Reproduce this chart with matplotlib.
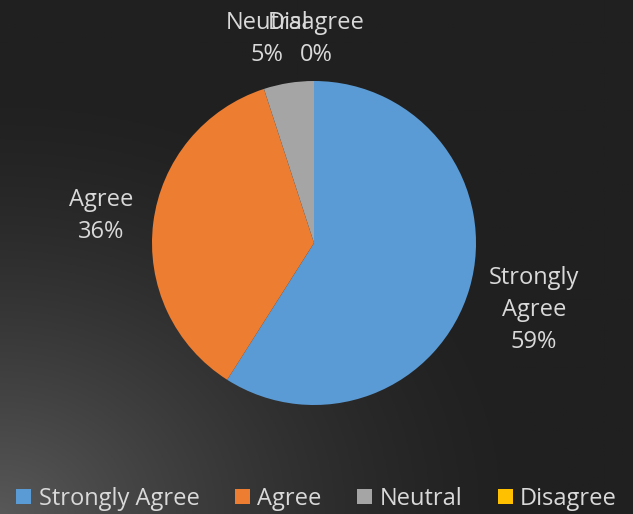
import numpy as np
import matplotlib
matplotlib.use("Agg")
import matplotlib.pyplot as plt
from matplotlib.patches import Patch

# survey answers
categories = ["Strongly Agree", "Agree", "Neutral", "Disagree"]
values = [59, 36, 5, 0]
colors = ["#5B9BD5", "#ED7D31", "#A5A5A5", "#FFC000"]

plt.rcParams["font.family"] = ["Open Sans", "DejaVu Sans"]
txt_color = "#d9d9d9"

fig = plt.figure(figsize=(6.33, 5.14), dpi=100)

# dark background, a bit lighter towards the lower left corner
bg = fig.add_axes([0, 0, 1, 1])
yy, xx = np.mgrid[0:1:200j, 0:1:200j]
t = np.clip(1.0 - np.hypot(xx, 1 - yy) / 0.85, 0, 1) ** 1.5
dark, light = 0x20 / 255, 0x58 / 255
img = dark + (light - dark) * t
bg.imshow(np.dstack([img, img, img]), extent=[0, 1, 0, 1], aspect="auto", origin="upper")
bg.axis("off")

# pie axes
W, H = 633, 514
cx, cy, r = 314, 243, 162
ax = fig.add_axes([(cx - r) / W, 1 - (cy + r) / H, 2 * r / W, 2 * r / H])
wedges, _ = ax.pie(values, colors=colors, startangle=90, counterclock=False,
                   radius=1, wedgeprops=dict(linewidth=0))
ax.set_xlim(-1, 1)
ax.set_ylim(-1, 1)
ax.set_aspect("auto")
ax.axis("off")

# data labels (pixel positions of the label centres)
label_pos = {
    "Strongly Agree": (534, 310),
    "Agree": (101, 216),
    "Neutral": (267, 39),
    "Disagree": (316, 39),
}
label_text = {
    "Strongly Agree": "Strongly\nAgree\n{}%",
    "Agree": "Agree\n{}%",
    "Neutral": "Neutral\n{}%",
    "Disagree": "Disagree\n{}%",
}
for cat, v in zip(categories, values):
    px, py = label_pos[cat]
    fig.text(px / W, 1 - py / H, label_text[cat].format(v), ha="center", va="center",
             color=txt_color, fontsize=17, linespacing=1.45)

handles = [Patch(facecolor=c, edgecolor="none") for c in colors]
fig.legend(handles, categories, loc="lower center", bbox_to_anchor=(0.5, -0.035), ncol=4,
           frameon=False, fontsize=17, labelcolor=txt_color, handlelength=0.65,
           handleheight=0.65, handletextpad=0.3, columnspacing=1.5)

fig.savefig("out.png", dpi=100)
